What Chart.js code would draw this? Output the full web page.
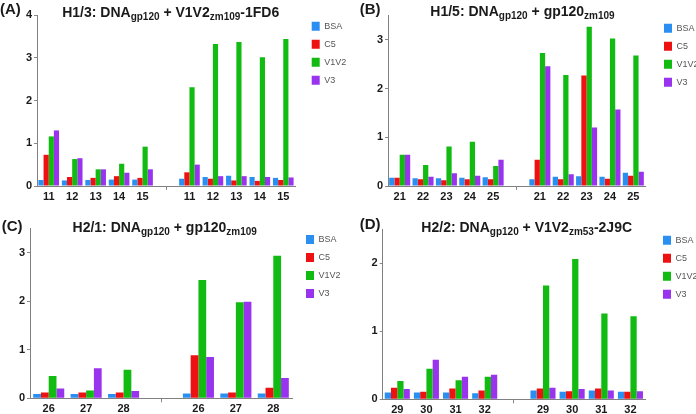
<!DOCTYPE html>
<html>
<head>
<meta charset="utf-8">
<script src="https://cdn.jsdelivr.net/npm/chart.js@4.4.1/dist/chart.umd.min.js"></script>
<style>
    html, body { margin: 0; padding: 0; background: #fff; overflow: hidden; }
    #wrap { position: relative; width: 696px; height: 414px; }
    canvas { position: absolute; }
</style>
</head>
<body>
<div id="wrap">
    <canvas id="chartA" width="348" height="207" style="left:0;top:0"></canvas>
    <canvas id="chartB" width="348" height="207" style="left:348px;top:0"></canvas>
    <canvas id="chartC" width="348" height="207" style="left:0;top:207px"></canvas>
    <canvas id="chartD" width="348" height="207" style="left:348px;top:207px"></canvas>
</div>
<script>
const seriesNames = ["BSA", "C5", "V1V2", "V3"];
const seriesColors = ["#2a8ff0", "#ee1111", "#11bb11", "#9933ee"];

// (A) H1/3
const catsA = ["11", "12", "13", "14", "15", "", "11", "12", "13", "14", "15"];
const bsaA  = [0.14, 0.13, 0.14, 0.15, 0.15, null, 0.17, 0.21, 0.24, 0.21, 0.19];
const c5A   = [0.73, 0.21, 0.19, 0.23, 0.19, null, 0.32, 0.17, 0.13, 0.12, 0.14];
const v1v2A = [1.16, 0.63, 0.39, 0.52, 0.92, null, 2.31, 3.32, 3.37, 3.01, 3.44];
const v3A   = [1.30, 0.65, 0.39, 0.31, 0.39, null, 0.50, 0.23, 0.23, 0.21, 0.20];

// (B) H1/5
const catsB = ["21", "22", "23", "24", "25", "", "21", "22", "23", "24", "25"];
const bsaB  = [0.17, 0.16, 0.16, 0.17, 0.18, null, 0.14, 0.19, 0.20, 0.19, 0.27];
const c5B   = [0.17, 0.14, 0.12, 0.14, 0.14, null, 0.54, 0.14, 2.27, 0.15, 0.21];
const v1v2B = [0.64, 0.43, 0.81, 0.91, 0.41, null, 2.73, 2.28, 3.27, 3.03, 2.68];
const v3B   = [0.64, 0.19, 0.26, 0.21, 0.54, null, 2.46, 0.24, 1.20, 1.57, 0.29];

// (C) H2/1
const catsC = ["26", "27", "28", "", "26", "27", "28"];
const bsaC  = [0.09, 0.09, 0.09, null, 0.10, 0.10, 0.10];
const c5C   = [0.12, 0.12, 0.12, null, 0.89, 0.12, 0.22];
const v1v2C = [0.46, 0.16, 0.59, null, 2.44, 1.98, 2.94];
const v3C   = [0.20, 0.62, 0.15, null, 0.85, 1.99, 0.42];

// (D) H2/2
const catsD = ["29", "30", "31", "32", "", "29", "30", "31", "32"];
const bsaD  = [0.10, 0.10, 0.10, 0.09, null, 0.13, 0.11, 0.13, 0.11];
const c5D   = [0.17, 0.11, 0.16, 0.13, null, 0.16, 0.12, 0.16, 0.11];
const v1v2D = [0.27, 0.45, 0.28, 0.33, null, 1.67, 2.06, 1.26, 1.22];
const v3D   = [0.15, 0.58, 0.33, 0.36, null, 0.17, 0.15, 0.13, 0.12];

const fontFamily = '"Liberation Sans", Arial, sans-serif';
const legendPad = 9;

// title with subscripts, drawn on the canvas
const titlePlugin = {
    id: "panelTitle",
    afterDraw(chart, args, opts) {
        const ctx = chart.ctx;
        ctx.save();
        ctx.fillStyle = "#1a1a1a";
        ctx.textBaseline = "alphabetic";
        ctx.textAlign = "left";
        ctx.font = "bold 15px " + fontFamily;
        ctx.fillText(opts.letter, opts.letterX, opts.letterY);

        const mainFont = "bold 14px " + fontFamily;
        const subFont = "bold 10px " + fontFamily;
        let w = 0;
        opts.parts.forEach(p => {
            ctx.font = p.sub ? subFont : mainFont;
            w += ctx.measureText(p.t).width;
        });
        let x = opts.cx - w / 2;
        opts.parts.forEach(p => {
            ctx.font = p.sub ? subFont : mainFont;
            ctx.fillText(p.t, x, opts.y + (p.sub ? 3 : 0));
            x += ctx.measureText(p.t).width;
        });
        ctx.restore();
    }
};

function makeChart(id, cats, series, yMax, geo, title) {
    const gapIndex = cats.indexOf("");
    const padTop = geo.legendTop - legendPad;
    const legendLeft = geo.legendX - legendPad;

    return new Chart(id, {
        type: "bar",
        data: {
            labels: cats,
            datasets: series.map((vals, i) => ({
                label: seriesNames[i],
                data: vals,
                backgroundColor: seriesColors[i],
                borderWidth: 0,
                categoryPercentage: geo.catPct,
                barPercentage: 1,
                xAxisID: "x",
                yAxisID: "y"
            }))
        },
        options: {
            responsive: false,
            animation: false,
            layout: { padding: { top: padTop, left: 0, right: 0, bottom: 0 } },
            plugins: {
                legend: {
                    position: "right",
                    align: "start",
                    maxWidth: 348 - legendLeft,
                    labels: {
                        boxWidth: 8,
                        boxHeight: 9,
                        padding: legendPad,
                        color: "#555",
                        font: { size: 9, family: fontFamily }
                    }
                },
                tooltip: { enabled: false },
                panelTitle: title
            },
            scales: {
                x: {
                    type: "category",
                    position: "bottom",
                    grid: {
                        display: true,
                        offset: false,
                        drawOnChartArea: false,
                        tickLength: 4,
                        tickColor: ctx => ctx.index === gapIndex ? "#888" : "rgba(0,0,0,0)"
                    },
                    border: { display: true, color: "#808080", width: 1 },
                    ticks: {
                        padding: 0,
                        color: "#1a1a1a",
                        maxRotation: 0,
                        autoSkip: false,
                        font: { size: 11, weight: "bold", family: fontFamily }
                    },
                    afterFit: s => { s.height = 207 - geo.bottom; }
                },
                y: {
                    type: "linear",
                    position: "left",
                    min: 0,
                    max: yMax,
                    grid: { display: true, drawOnChartArea: false, tickLength: 3, tickColor: "#888" },
                    border: { display: true, color: "#808080", width: 1 },
                    ticks: {
                        stepSize: 1,
                        includeBounds: false,
                        padding: 2,
                        color: "#1a1a1a",
                        font: { size: 11, weight: "bold", family: fontFamily }
                    },
                    afterFit: s => { s.width = geo.left; }
                },
                // empty spacer axes that place the plot area
                padT: {
                    type: "linear", axis: "x", position: "top", display: true,
                    ticks: { display: false }, grid: { display: false }, border: { display: false },
                    afterFit: s => { s.height = geo.top - padTop; }
                },
                padR: {
                    type: "linear", axis: "y", position: "right", display: true,
                    ticks: { display: false }, grid: { display: false }, border: { display: false },
                    afterFit: s => { s.width = legendLeft - geo.right; }
                }
            }
        },
        plugins: [titlePlugin]
    });
}

window.onload = function () {
    makeChart("chartA", catsA, [bsaA, c5A, v1v2A, v3A], 4,
        { left: 37, right: 295, top: 15, bottom: 186, legendX: 311.7, legendTop: 21.7, catPct: 0.88 },
        { letter: "(A)", letterX: 0, letterY: 13.5, cx: 170.7, y: 16.7,
          parts: [{ t: "H1/3: DNA" }, { t: "gp120", sub: true }, { t: " + V1V2" }, { t: "zm109", sub: true }, { t: "-1FD6" }] });

    makeChart("chartB", catsB, [bsaB, c5B, v1v2B, v3B], 3.5,
        { left: 40, right: 297, top: 15.5, bottom: 186, legendX: 316, legendTop: 23.8, catPct: 0.9 },
        { letter: "(B)", letterX: 11.7, letterY: 13.5, cx: 174.5, y: 16,
          parts: [{ t: "H1/5: DNA" }, { t: "gp120", sub: true }, { t: " + gp120" }, { t: "zm109", sub: true }] });

    makeChart("chartC", catsC, [bsaC, c5C, v1v2C, v3C], 3.5,
        { left: 30, right: 292, top: 21.6, bottom: 191.3, legendX: 306, legendTop: 28, catPct: 0.83 },
        { letter: "(C)", letterX: 1.7, letterY: 23.5, cx: 164.7, y: 25,
          parts: [{ t: "H2/1: DNA" }, { t: "gp120", sub: true }, { t: " + gp120" }, { t: "zm109", sub: true }] });

    makeChart("chartD", catsD, [bsaD, c5D, v1v2D, v3D], 2.5,
        { left: 34.7, right: 297, top: 22, bottom: 192.3, legendX: 315, legendTop: 28.8, catPct: 0.86 },
        { letter: "(D)", letterX: 11.7, letterY: 22, cx: 178.7, y: 25,
          parts: [{ t: "H2/2: DNA" }, { t: "gp120", sub: true }, { t: " + V1V2" }, { t: "zm53", sub: true }, { t: "-2J9C" }] });
};
</script>
</body>
</html>
